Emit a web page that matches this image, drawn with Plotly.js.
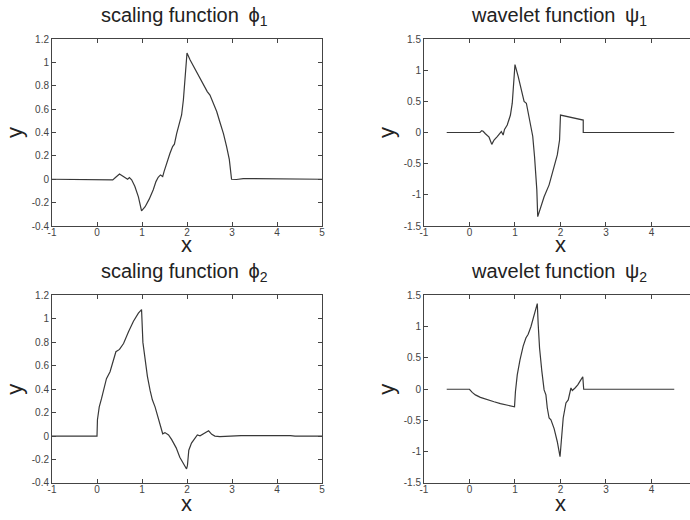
<!DOCTYPE html>
<html><head><meta charset="utf-8">
<script src="https://cdn.plot.ly/plotly-3.0.1.min.js"></script>
<style>html,body{margin:0;padding:0;overflow:hidden;background:#fff}#chart{width:700px;height:520px}</style>
</head><body><div id="chart"></div><script>
// scaling function phi1
const phi1X = [-1, 0.3, 0.35, 0.41, 0.5, 0.56, 0.63, 0.68, 0.72, 0.77, 0.84, 0.92, 0.99, 1.07, 1.16, 1.25, 1.31, 1.36, 1.41, 1.46, 1.49, 1.55, 1.62, 1.68, 1.72, 1.77, 1.83, 1.88, 1.92, 1.96, 2.0, 2.07, 2.18, 2.29, 2.4, 2.45, 2.51, 2.58, 2.66, 2.73, 2.81, 2.88, 2.94, 2.99, 3.1, 3.25, 4.3, 4.4, 5];
const phi1Y = [0, 0, -0.005, 0.015, 0.045, 0.03, 0.015, 0, 0.015, -0.005, -0.06, -0.15, -0.27, -0.235, -0.17, -0.09, -0.02, 0.017, 0.037, 0.023, 0.065, 0.14, 0.22, 0.28, 0.3, 0.39, 0.48, 0.55, 0.68, 0.88, 1.08, 1.02, 0.94, 0.86, 0.79, 0.75, 0.72, 0.65, 0.58, 0.49, 0.39, 0.28, 0.17, 0, -0.002, 0.006, 0.005, 0, 0];
// wavelet function psi1
const psi1X = [-0.5, 0.23, 0.27, 0.3, 0.35, 0.43, 0.49, 0.54, 0.61, 0.67, 0.7, 0.74, 0.77, 0.83, 0.87, 0.9, 0.94, 1.0, 1.07, 1.14, 1.2, 1.25, 1.29, 1.35, 1.39, 1.43, 1.48, 1.5, 1.57, 1.64, 1.75, 1.8, 1.88, 1.93, 1.98, 2.0, 2.5, 2.5, 4.5];
const psi1Y = [0, 0, 0.03, 0.02, -0.02, -0.075, -0.19, -0.12, -0.065, 0, 0.015, -0.04, 0.05, 0.12, 0.2, 0.28, 0.47, 1.09, 0.9, 0.69, 0.5, 0.47, 0.31, 0.1, -0.06, -0.39, -0.92, -1.35, -1.19, -1.03, -0.84, -0.71, -0.52, -0.36, -0.12, 0.28, 0.2, 0, 0];
// scaling function phi2
const phi2X = [-1, 0, 0.01, 0.05, 0.1, 0.16, 0.21, 0.29, 0.35, 0.42, 0.5, 0.59, 0.7, 0.81, 0.92, 0.99, 1.02, 1.07, 1.12, 1.18, 1.23, 1.29, 1.36, 1.41, 1.46, 1.51, 1.59, 1.66, 1.76, 1.84, 1.92, 1.99, 2.01, 2.04, 2.1, 2.18, 2.23, 2.29, 2.36, 2.44, 2.48, 2.55, 2.62, 2.73, 3.2, 4.3, 4.4, 5];
const phi2Y = [0, 0, 0.14, 0.25, 0.32, 0.41, 0.49, 0.55, 0.62, 0.72, 0.74, 0.79, 0.89, 0.98, 1.05, 1.08, 0.8, 0.65, 0.51, 0.39, 0.31, 0.25, 0.15, 0.09, 0.02, 0.03, 0.01, -0.03, -0.1, -0.18, -0.23, -0.28, -0.25, -0.12, -0.06, -0.02, 0.01, 0.003, 0.02, 0.035, 0.045, 0.015, 0, -0.005, 0.005, 0.004, 0, 0];
// wavelet function psi2
const psi2X = [-0.5, 0, 0.06, 0.13, 0.24, 0.39, 0.54, 0.68, 0.83, 0.99, 1.01, 1.05, 1.11, 1.18, 1.24, 1.29, 1.35, 1.42, 1.49, 1.51, 1.54, 1.59, 1.64, 1.68, 1.71, 1.75, 1.79, 1.86, 1.93, 1.99, 2.03, 2.06, 2.12, 2.17, 2.23, 2.26, 2.32, 2.38, 2.43, 2.49, 2.51, 4.5];
const psi2Y = [0, 0, -0.05, -0.09, -0.13, -0.17, -0.2, -0.23, -0.25, -0.28, -0.04, 0.23, 0.47, 0.69, 0.82, 0.88, 1.0, 1.17, 1.37, 1.04, 0.66, 0.29, -0.01, -0.09, -0.3, -0.46, -0.49, -0.63, -0.84, -1.08, -0.73, -0.46, -0.22, -0.17, 0.02, -0.02, 0.02, 0.07, 0.13, 0.2, 0, 0];

// ticks
const xTickValsLeft = [-1, 0, 1, 2, 3, 4, 5];
const xTickTextLeft = ['-1', '0', '1', '2', '3', '4', '5'];
const xTickValsRight = [-1, 0, 1, 2, 3, 4];
const xTickTextRight = ['-1', '0', '1', '2', '3', '4'];
const phiTickVals = [-0.4, -0.2, 0, 0.2, 0.4, 0.6, 0.8, 1, 1.2];
const phiTickText = ['-0.4', '-0.2', '0', '0.2', '0.4', '0.6', '0.8', '1', '1.2'];
const psiTickVals = [-1.5, -1, -0.5, 0, 0.5, 1, 1.5];
const psiTickText = ['-1.5', '-1', '-0.5', '0', '0.5', '1', '1.5'];

const panelTitles = ['scaling function\u00a0\u2009\u03d5<sub>1</sub>', 'wavelet function\u00a0\u2009\u03c8<sub>1</sub>',
                     'scaling function\u00a0\u2009\u03d5<sub>2</sub>', 'wavelet function\u00a0\u2009\u03c8<sub>2</sub>'];
const xLabel = 'x';
const yLabel = 'y';

const lineStyle = {color: '#383838', width: 1.2};
const traces = [
  {x: phi1X, y: phi1Y, xaxis: 'x', yaxis: 'y'},
  {x: psi1X, y: psi1Y, xaxis: 'x2', yaxis: 'y2'},
  {x: phi2X, y: phi2Y, xaxis: 'x3', yaxis: 'y3'},
  {x: psi2X, y: psi2Y, xaxis: 'x4', yaxis: 'y4'}
].map(t => Object.assign(t, {type: 'scatter', mode: 'lines', line: lineStyle, showlegend: false, hoverinfo: 'skip'}));

const common = {showline: true, linecolor: '#444', linewidth: 1, mirror: 'ticks', ticks: 'inside', ticklen: 4,
  tickcolor: '#444', showgrid: false, zeroline: false, tickfont: {size: 10, color: '#444'}, fixedrange: true};
function xax(dom, anchor, vals, text) {
  return Object.assign({}, common, {domain: dom, anchor: anchor, range: [-1, 5], tickvals: vals, ticktext: text,
    ticklabelstandoff: -3});
}
function yax(dom, anchor, vals, text, range) {
  return Object.assign({}, common, {domain: dom, anchor: anchor, range: range, tickvals: vals, ticktext: text,
    title: {text: yLabel, font: {size: 22, color: '#222'}, standoff: 3}});
}
const leftDom = [0, 0.4186], rightDom = [0.5767, 1];
const topDom = [0.5788, 1], botDom = [0, 0.4223];

const titleX = [0.206, 0.786, 0.206, 0.786];
const titleY = [1.05, 1.05, 0.473, 0.473];
const annotations = panelTitles.map((t, i) => ({text: t, x: titleX[i], y: titleY[i], xref: 'paper', yref: 'paper',
  xanchor: 'center', yanchor: 'middle', showarrow: false, font: {size: 20, color: '#222'}}));
// x-axis labels placed just under each panel's tick labels
const xLabelX = [0.2093, 0.7883, 0.2093, 0.7883];
const xLabelY = [0.537, 0.537, -0.047, -0.047];
xLabelX.forEach((xv, i) => annotations.push({text: xLabel, x: xv, y: xLabelY[i], xref: 'paper', yref: 'paper',
  xanchor: 'center', yanchor: 'middle', showarrow: false, font: {size: 22, color: '#222'}}));

const layout = {
  width: 700, height: 520,
  margin: {l: 52, r: 3, t: 39, b: 37},
  paper_bgcolor: '#fff', plot_bgcolor: '#fff',
  font: {family: '"Liberation Sans", Arial, sans-serif', color: '#222'},
  xaxis: xax(leftDom, 'y', xTickValsLeft, xTickTextLeft), yaxis: yax(topDom, 'x', phiTickVals, phiTickText, [-0.4, 1.2]),
  xaxis2: xax(rightDom, 'y2', xTickValsRight, xTickTextRight), yaxis2: yax(topDom, 'x2', psiTickVals, psiTickText, [-1.5, 1.5]),
  xaxis3: xax(leftDom, 'y3', xTickValsLeft, xTickTextLeft), yaxis3: yax(botDom, 'x3', phiTickVals, phiTickText, [-0.4, 1.2]),
  xaxis4: xax(rightDom, 'y4', xTickValsRight, xTickTextRight), yaxis4: yax(botDom, 'x4', psiTickVals, psiTickText, [-1.5, 1.5]),
  annotations: annotations,
  showlegend: false
};
Plotly.newPlot('chart', traces, layout, {staticPlot: true, displayModeBar: false});
</script></body></html>
